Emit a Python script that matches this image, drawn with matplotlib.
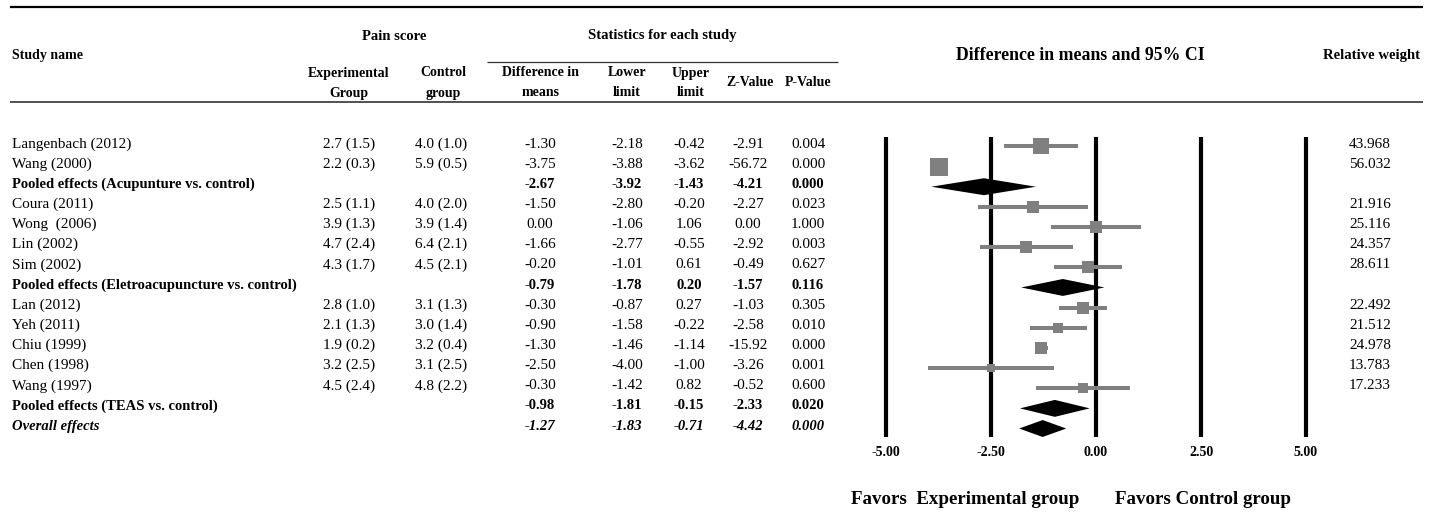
import numpy as np
import matplotlib
matplotlib.use("Agg")
import matplotlib.pyplot as plt

plt.rcParams["font.family"] = ["Liberation Serif", "DejaVu Serif"]

# dados da figura
study_names = ["Langenbach (2012)", "Wang (2000)", "Pooled effects (Acupunture vs. control)",
               "Coura (2011)", "Wong  (2006)", "Lin (2002)", "Sim (2002)",
               "Pooled effects (Eletroacupuncture vs. control)",
               "Lan (2012)", "Yeh (2011)", "Chiu (1999)", "Chen (1998)", "Wang (1997)",
               "Pooled effects (TEAS vs. control)", "Overall effects"]
row_kind = ["study", "study", "pooled",
            "study", "study", "study", "study", "pooled",
            "study", "study", "study", "study", "study",
            "pooled", "overall"]
exp_group = ["2.7 (1.5)", "2.2 (0.3)", "", "2.5 (1.1)", "3.9 (1.3)", "4.7 (2.4)", "4.3 (1.7)", "",
             "2.8 (1.0)", "2.1 (1.3)", "1.9 (0.2)", "3.2 (2.5)", "4.5 (2.4)", "", ""]
ctrl_group = ["4.0 (1.0)", "5.9 (0.5)", "", "4.0 (2.0)", "3.9 (1.4)", "6.4 (2.1)", "4.5 (2.1)", "",
              "3.1 (1.3)", "3.0 (1.4)", "3.2 (0.4)", "3.1 (2.5)", "4.8 (2.2)", "", ""]
diff_means = [-1.30, -3.75, -2.67, -1.50, 0.00, -1.66, -0.20, -0.79,
              -0.30, -0.90, -1.30, -2.50, -0.30, -0.98, -1.27]
lower_limit = [-2.18, -3.88, -3.92, -2.80, -1.06, -2.77, -1.01, -1.78,
               -0.87, -1.58, -1.46, -4.00, -1.42, -1.81, -1.83]
upper_limit = [-0.42, -3.62, -1.43, -0.20, 1.06, -0.55, 0.61, 0.20,
               0.27, -0.22, -1.14, -1.00, 0.82, -0.15, -0.71]
z_value = [-2.91, -56.72, -4.21, -2.27, 0.00, -2.92, -0.49, -1.57,
           -1.03, -2.58, -15.92, -3.26, -0.52, -2.33, -4.42]
p_value = ["0.004", "0.000", "0.000", "0.023", "1.000", "0.003", "0.627", "0.116",
           "0.305", "0.010", "0.000", "0.001", "0.600", "0.020", "0.000"]
rel_weight = [43.968, 56.032, None, 21.916, 25.116, 24.357, 28.611, None,
              22.492, 21.512, 24.978, 13.783, 17.233, None, None]
x_ticks = [-5.0, -2.5, 0.0, 2.5, 5.0]

W, H = 1435, 513
y0, dy = 144, 20.15   # posicao da primeira linha e espacamento (px)
grey = "#808080"

def py(y):
    # pixel vertical -> unidade de linha
    return (y - y0) / dy

ylim = (py(H), py(0))

fig = plt.figure(figsize=(W / 100, H / 100), dpi=100)

# eixo da tabela (x em pixels, y em linhas)
tab = fig.add_axes([0, 0, 1, 1])
tab.set_xlim(0, W)
tab.set_ylim(*ylim)
tab.axis("off")

# linhas horizontais
tab.hlines(py(7), 10, 1423, color="black", lw=1.6)
tab.hlines(py(102), 10, 1423, color="#333333", lw=1.2)
tab.hlines(py(62), 487, 838, color="#333333", lw=0.9)

hb = dict(fontweight="bold", va="center")
tab.text(12, py(55), "Study name", ha="left", fontsize=10, **hb)
tab.text(394, py(36), "Pain score", ha="center", fontsize=10.5, **hb)
tab.text(349, py(73), "Experimental", ha="center", fontsize=10, **hb)
tab.text(349, py(93), "Group", ha="center", fontsize=10, **hb)
tab.text(443, py(73), "Control", ha="center", fontsize=10, **hb)
tab.text(443, py(93), "group", ha="center", fontsize=10, **hb)
tab.text(662, py(36), "Statistics for each study", ha="center", fontsize=10.5, **hb)
tab.text(541, py(73), "Difference in", ha="center", fontsize=10, **hb)
tab.text(541, py(93), "means", ha="center", fontsize=10, **hb)
tab.text(627, py(73), "Lower", ha="center", fontsize=10, **hb)
tab.text(627, py(93), "limit", ha="center", fontsize=10, **hb)
tab.text(691, py(73), "Upper", ha="center", fontsize=10, **hb)
tab.text(691, py(93), "limit", ha="center", fontsize=10, **hb)
tab.text(750, py(83), "Z-Value", ha="center", fontsize=10, **hb)
tab.text(808, py(83), "P-Value", ha="center", fontsize=10, **hb)
tab.text(1080, py(55), "Difference in means and 95% CI", ha="center", fontsize=12.8, **hb)
tab.text(1372, py(55), "Relative weight", ha="center", fontsize=10.6, **hb)

tab.text(851, py(500), "Favors  Experimental group", ha="left", fontsize=13.6, **hb)
tab.text(1115, py(500), "Favors Control group", ha="left", fontsize=13.6, **hb)

for i in range(len(study_names)):
    kind = row_kind[i]
    fw = "normal" if kind == "study" else "bold"
    st = "italic" if kind == "overall" else "normal"
    fs = 11 if kind == "study" else 10.5
    kw = dict(fontsize=fs, fontweight=fw, fontstyle=st, va="center")
    tab.text(12, i, study_names[i], ha="left", **kw)
    tab.text(349, i, exp_group[i], ha="center", **kw)
    tab.text(441, i, ctrl_group[i], ha="center", **kw)
    tab.text(540, i, f"{diff_means[i]:.2f}", ha="center", **kw)
    tab.text(627, i, f"{lower_limit[i]:.2f}", ha="center", **kw)
    tab.text(689, i, f"{upper_limit[i]:.2f}", ha="center", **kw)
    tab.text(748, i, f"{z_value[i]:.2f}", ha="center", **kw)
    tab.text(808, i, p_value[i], ha="center", **kw)
    if rel_weight[i] is not None:
        tab.text(1370, i, f"{rel_weight[i]:.3f}", ha="center", **kw)

# eixo do forest plot
ax = fig.add_axes([886 / W, 0, (1306 - 886) / W, 1])
ax.set_xlim(x_ticks[0], x_ticks[-1])
ax.set_ylim(*ylim)
ax.axis("off")

ax.vlines(x_ticks, py(137), py(437), color="black", lw=3, clip_on=False)
for t in x_ticks:
    ax.text(t, py(453), f"{t:.2f}", ha="center", va="center", fontsize=10,
            fontweight="bold", clip_on=False)

for i in range(len(study_names)):
    kind = row_kind[i]
    if kind == "study":
        ax.hlines(i + 0.12, lower_limit[i], upper_limit[i], color=grey, lw=2.9, zorder=3)
        size_px = 2.35 * np.sqrt(rel_weight[i])
        ax.plot(diff_means[i], i + 0.12, marker="s", color=grey, ms=size_px * 0.72,
                mew=0, zorder=4, clip_on=False)
    else:
        h = 0.42
        ax.fill([lower_limit[i], diff_means[i], upper_limit[i], diff_means[i]],
                [i + 0.12, i + 0.12 - h, i + 0.12, i + 0.12 + h],
                color="black", lw=0, zorder=5)

fig.savefig("out.png", dpi=100)
